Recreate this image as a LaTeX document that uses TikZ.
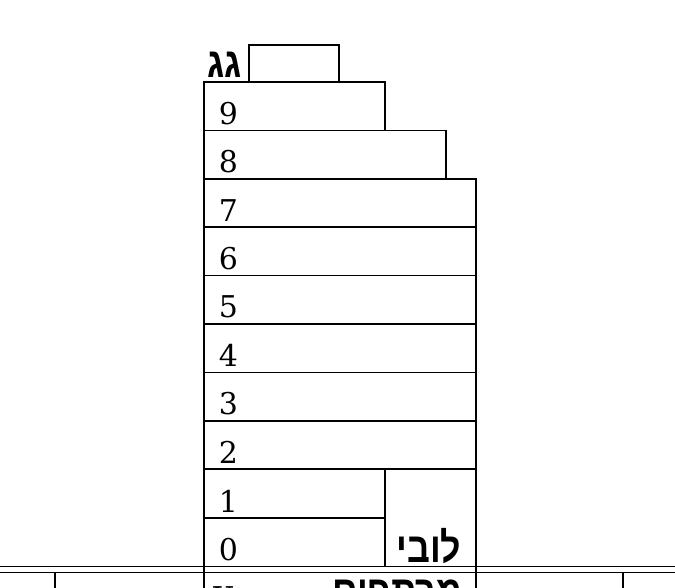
\documentclass[tikz,border=0pt]{standalone}
\usepackage{fontspec}
\newfontfamily\hebfont[Script=Hebrew, FakeStretch=0.85]{Liberation Sans}
\newfontfamily\numfont{DejaVu Serif}
\TeXXeTstate=1
\usetikzlibrary{positioning}

\begin{document}
\begin{tikzpicture}[x=0.5pt, y=-0.5pt, line width=0.8pt,
        floorbox/.style={draw, rectangle, inner sep=0pt, outer sep=0pt,
                         anchor=north west, minimum height=24.2pt},
        floornum/.style={anchor=base west, inner sep=0pt,
                         font=\numfont\fontsize{15}{18}\selectfont},
        heblabel/.style={anchor=base east, inner sep=0pt,
                         font=\hebfont\bfseries\fontsize{21}{24}\selectfont}]
        \useasboundingbox (0,0) rectangle (675,588);
        \clip (0,0) rectangle (675,588);
        % Roof
        \node[floorbox, minimum width=45pt, minimum height=18.5pt] (roof) at (249,45) {};
        \node[heblabel] at ([shift={(-7,-4)}]roof.south west) {\beginR גג\endR};
        % Upper floors
        \node[floorbox, minimum width=90.5pt] (f9) at (204,82) {};
        \node[floorbox, minimum width=121pt] (f8) at (204,130.4) {};
        \foreach \n in {7,...,2}
            \node[floorbox, minimum width=136pt] (f\n) at (204,{82+(9-\n)*48.4}) {};
        % Lower floors and lobby
        \node[floorbox, minimum width=90.5pt] (f1) at (204,469.6) {};
        \node[floorbox, minimum width=90.5pt] (f0) at (204,518) {};
        \node[floorbox, minimum width=45.5pt, minimum height=48.4pt] (lobby) at (385,469.6) {};
        \node[heblabel] at ([shift={(-14,-4)}]lobby.south east) {\beginR לובי\endR};
        \foreach \n in {9,...,0}
            \node[floornum] at ([shift={(14,-6)}]f\n.south west) {\n};
        % Basement
        \node[floorbox, minimum width=136pt] (fb) at (204,566.4) {};
        \node[floornum] at ([shift={(8,-6)}]fb.south west) {X};
        \node[heblabel] at ([shift={(-13,-9)}]fb.south east) {\beginR מרתפים\endR};
        % Ground
        \coordinate (gl) at (0,566.4);
        \coordinate (gr) at (675,566.4);
        \coordinate (ul) at (0,572.5);
        \coordinate (ur) at (675,572.5);
        \draw (gl) -- (gr);
        \draw (ul) -- (ur);
        \coordinate (sl) at (55,572.5);
        \coordinate (sr) at (623,572.5);
        \draw (sl) -- ++(0,40);
        \draw (sr) -- ++(0,40);
\end{tikzpicture}
\end{document}
